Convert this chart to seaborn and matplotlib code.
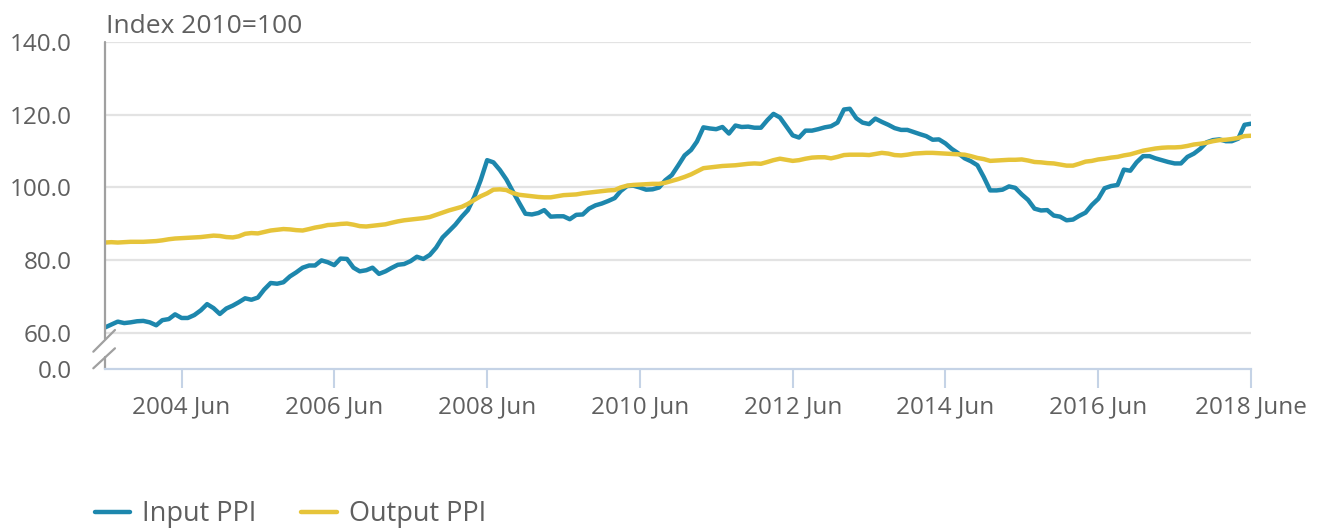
import numpy as np
import pandas as pd
import seaborn as sns
import matplotlib.pyplot as plt

# Indices mensais, jun/2003 a jun/2018 (2010=100)
input_ppi = [
    61.6, 62.4, 63.2, 62.8, 63.0, 63.3, 63.4,                                  # 2003 Jun-Dec
    63.0, 62.2, 63.6, 63.9, 65.2, 64.2, 64.2, 65.0, 66.3, 68.0, 66.9, 65.3,    # 2004
    66.8, 67.6, 68.5, 69.6, 69.2, 69.8, 72.0, 73.8, 73.6, 74.0, 75.6, 76.7,    # 2005
    78.0, 78.6, 78.6, 80.0, 79.5, 78.7, 80.5, 80.4, 78.0, 77.0, 77.3, 78.0,    # 2006
    76.3, 77.0, 77.9, 78.8, 79.0, 79.8, 81.0, 80.4, 81.5, 83.5, 86.3, 88.0,    # 2007
    89.8, 92.0, 93.8, 97.5, 102.0, 107.5, 106.9, 104.8, 102.2, 99.0, 95.8, 92.8,  # 2008
    92.6, 93.0, 93.8, 92.0, 92.1, 92.1, 91.3, 92.5, 92.6, 94.2, 95.1, 95.6,    # 2009
    96.3, 97.1, 99.0, 100.4, 100.5, 100.0, 99.4, 99.5, 100.0, 102.0, 103.4, 106.0,  # 2010
    108.8, 110.3, 112.6, 116.5, 116.2, 116.0, 116.6, 114.8, 117.0, 116.6, 116.7, 116.4,  # 2011
    116.4, 118.5, 120.2, 119.2, 116.8, 114.3, 113.7, 115.6, 115.6, 116.0, 116.5, 116.8,  # 2012
    117.8, 121.4, 121.6, 119.0, 117.8, 117.4, 118.9, 118.0, 117.2, 116.3, 115.8, 115.8,  # 2013
    115.2, 114.6, 114.1, 113.1, 113.2, 112.1, 110.6, 109.4, 108.0, 107.2, 106.1, 102.9,  # 2014
    99.2, 99.2, 99.4, 100.3, 99.9, 98.1, 96.6, 94.2, 93.7, 93.8, 92.3, 92.0,   # 2015
    91.0, 91.2, 92.2, 93.1, 95.2, 96.9, 99.8, 100.4, 100.7, 104.9, 104.6, 106.9,  # 2016
    108.6, 108.6, 108.0, 107.5, 107.0, 106.6, 106.6, 108.4, 109.3, 110.6, 112.4, 113.0,  # 2017
    113.2, 112.7, 112.7, 113.4, 117.2, 117.5,                                  # 2018 Jan-Jun
]

output_ppi = [
    84.9, 85.0, 84.9, 85.0, 85.1, 85.1, 85.1,
    85.2, 85.3, 85.5, 85.8, 86.0, 86.1, 86.2, 86.3, 86.4, 86.6, 86.8, 86.7,
    86.4, 86.3, 86.6, 87.3, 87.5, 87.4, 87.8, 88.2, 88.4, 88.6, 88.5, 88.3,
    88.2, 88.6, 89.0, 89.3, 89.7, 89.8, 90.0, 90.1, 89.8, 89.4, 89.3, 89.5,
    89.7, 89.9, 90.3, 90.7, 91.0, 91.2, 91.4, 91.6, 91.9, 92.5, 93.1, 93.7,
    94.2, 94.7, 95.5, 96.6, 97.6, 98.4, 99.4, 99.5, 99.3, 98.5, 98.0, 97.8,
    97.6, 97.4, 97.3, 97.3, 97.6, 97.9, 98.0, 98.1, 98.4, 98.6, 98.8, 99.0,
    99.2, 99.3, 100.0, 100.5, 100.7, 100.8, 100.9, 101.0, 101.0, 101.3, 101.8, 102.3,
    102.9, 103.6, 104.4, 105.3, 105.5, 105.7, 105.9, 106.0, 106.1, 106.3, 106.5, 106.6,
    106.5, 107.0, 107.5, 107.9, 107.6, 107.3, 107.5, 107.9, 108.2, 108.3, 108.3, 108.0,
    108.4, 108.9, 109.0, 109.0, 109.0, 108.9, 109.2, 109.5, 109.3, 108.9, 108.8, 109.0,
    109.3, 109.4, 109.5, 109.5, 109.4, 109.3, 109.2, 109.1, 109.0, 108.6, 108.1, 107.8,
    107.3, 107.4, 107.5, 107.6, 107.6, 107.7, 107.4, 107.0, 106.9, 106.7, 106.6, 106.3,
    106.0, 106.0, 106.5, 107.1, 107.3, 107.7, 107.9, 108.2, 108.4, 108.8, 109.1, 109.6,
    110.1, 110.4, 110.7, 110.9, 111.0, 111.0, 111.1, 111.4, 111.8, 112.0, 112.3, 112.7,
    113.0, 113.1, 113.3, 113.6, 114.1, 114.2,
]

tick_dates = ['2004-06-01', '2006-06-01', '2008-06-01', '2010-06-01',
              '2012-06-01', '2014-06-01', '2016-06-01', '2018-06-01']
tick_labels = ['2004 Jun', '2006 Jun', '2008 Jun', '2010 Jun',
               '2012 Jun', '2014 Jun', '2016 Jun', '2018 June']
y_ticks = [0, 60, 80, 100, 120, 140]

datas = pd.date_range('2003-06-01', '2018-06-01', freq='MS')

sns.set_theme(style='white')
plt.rcParams['font.family'] = ['Open Sans', 'DejaVu Sans']

cinza = '#5f5f5f'
azul = '#1d87ad'
amarelo = '#e6c43a'

fig = plt.figure(figsize=(13.18, 5.29), dpi=100)
ax = fig.add_axes([105 / 1318, 1 - 368.5 / 529, 1146 / 1318, 326.8 / 529])

sns.lineplot(x=datas, y=input_ppi, ax=ax, color=azul, linewidth=3.2, label='Input PPI')
sns.lineplot(x=datas, y=output_ppi, ax=ax, color=amarelo, linewidth=3.2, label='Output PPI')

# Eixo y quebrado: 0-60 comprimido
k = 0.161
def fwd(y):
    y = np.asarray(y, dtype=float)
    return np.where(y >= 60, y, 60 - (60 - y) * k)

def inv(t):
    t = np.asarray(t, dtype=float)
    return np.where(t >= 60, t, 60 - (60 - t) / k)

ax.set_yscale('function', functions=(fwd, inv))
ax.set_ylim(0, 140)
ax.set_xlim(datas[0], datas[-1])

ax.set_yticks(y_ticks)
ax.set_yticklabels(['{:.1f}'.format(v) for v in y_ticks])
ax.set_xticks(pd.to_datetime(tick_dates))
ax.set_xticklabels(tick_labels)
ax.set_xlabel('')
ax.set_ylabel('')

for v in y_ticks[1:]:
    ax.axhline(v, color='#e3e3e3', linewidth=1.6, zorder=0)

ax.tick_params(axis='y', length=0, pad=24, labelsize=17.5, labelcolor=cinza)
ax.tick_params(axis='x', length=14, width=1.5, color='#c5d3e6', pad=5,
               labelsize=17.5, labelcolor=cinza, direction='out', bottom=True)

for lado in ['top', 'right', 'left']:
    ax.spines[lado].set_visible(False)
ax.spines['bottom'].set_color('#c5d3e6')
ax.spines['bottom'].set_linewidth(1.6)

# Eixo esquerdo com marca de quebra
ax.plot([0, 0], [0.09, 1], transform=ax.transAxes, color='#a0a0a0', lw=1.6, clip_on=False)
ax.plot([0, 0], [0, 0.034], transform=ax.transAxes, color='#a0a0a0', lw=1.6, clip_on=False)
ax.plot([-0.0102, 0.0087], [0.0514, 0.1178], transform=ax.transAxes, color='#a0a0a0', lw=1.6, clip_on=False)
ax.plot([-0.0102, 0.0087], [0.0006, 0.0618], transform=ax.transAxes, color='#a0a0a0', lw=1.6, clip_on=False)

fig.text(106 / 1318, 1 - 33 / 529, 'Index 2010=100', fontsize=19, color=cinza, va='baseline')

ax.legend_.remove()
handles, labels = ax.get_legend_handles_labels()
fig.legend(handles, labels, loc='center left', bbox_to_anchor=(95 / 1318, 1 - 514 / 529),
           ncol=2, frameon=False, fontsize=19.5, labelcolor=cinza,
           borderpad=0, borderaxespad=0,
           handlelength=1.3, handletextpad=0.45, columnspacing=1.65)

plt.savefig('out.png', dpi=100)
